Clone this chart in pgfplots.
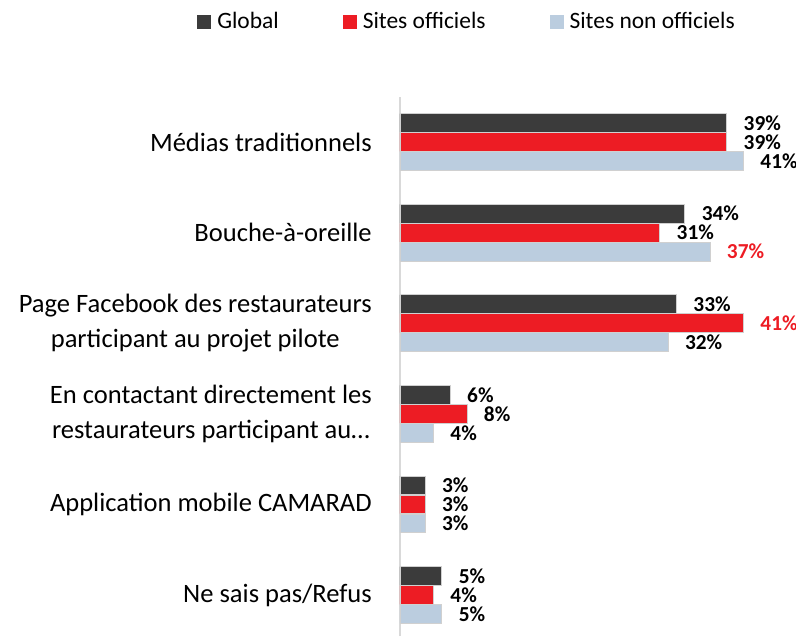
\documentclass[border=0pt]{standalone}
\usepackage{pgfplots}
\usepackage{pgfplotstable}
\pgfplotsset{compat=1.18}
\usepackage{fontspec}
\setmainfont{Carlito}

\definecolor{cglobal}{HTML}{3B3B3B}
\definecolor{cofficiel}{HTML}{ED1C24}
\definecolor{cnonoff}{HTML}{BBCDDF}
\definecolor{cedge}{HTML}{D0D0D0}
\definecolor{caxis}{HTML}{D9D9D9}

% pos: place of the category (top = 5); *sig = 1 when the label is red
\pgfplotstableread{
pos global gsig official osig nonoff nsig
5   39     0    39       0    41     0
4   34     0    31       0    37     1
3   33     0    41       1    32     0
2   6      0    8        0    4      0
1   3      0    3        0    3      0
0   5      0    4        0    5      0
}\data

\begin{document}
\begin{tikzpicture}
\begin{axis}[
    name=ax,
    scale only axis,
    width=297pt, height=404.25pt,
    xbar, bar width=14pt,
    xmin=0, xmax=47.26,
    ymin=-0.4525, ymax=5.497,
    hide x axis,
    axis y line*=left,
    y axis line style={draw=caxis, line width=1.5pt},
    ytick={0,...,5},
    yticklabels={
        {Ne sais pas/Refus},
        {Application mobile CAMARAD},
        {En contactant directement les\\restaurateurs participant au…},
        {Page Facebook des restaurateurs\\participant au projet pilote},
        {Bouche-à-oreille},
        {Médias traditionnels}},
    major tick length=0pt,
    yticklabel style={font=\fontsize{19.9}{26}\selectfont, align=center,
        inner sep=0pt, xshift=-21pt},
    nodes near coords={\ifdim\sig pt>0.5pt \color{cofficiel}\fi\pgfmathprintnumber{\pgfplotspointmeta}\%},
    every node near coord/.append style={font=\fontsize{16}{16}\selectfont\bfseries,
        anchor=west, inner sep=0pt, xshift=12.4pt, text=black},
    /pgf/number format/assume math mode=true,
    legend columns=-1,
    legend style={at={(-0.5126,1.1405)}, anchor=west, draw=none, fill=none,
        inner sep=0pt, font=\fontsize{17.6}{20}\selectfont,
        nodes={inner sep=0pt},
        /tikz/every odd column/.append style={column sep=4.5pt},
        /tikz/every even column/.append style={column sep=48pt}},
    legend image code/.code={\path[#1, draw=none] (0pt,-6pt) rectangle (10.5pt,4.5pt);},
]
\addplot[fill=cglobal, draw=cedge, line width=0.6pt, bar shift=14.25pt, point meta=x,
    visualization depends on={\thisrow{gsig} \as \sig}]
    table[x=global, y=pos] {\data};
\addplot[fill=cofficiel, draw=cedge, line width=0.6pt, bar shift=0pt, point meta=x,
    visualization depends on={\thisrow{osig} \as \sig}]
    table[x=official, y=pos] {\data};
\addplot[fill=cnonoff, draw=cedge, line width=0.6pt, bar shift=-14.25pt, point meta=x,
    visualization depends on={\thisrow{nsig} \as \sig}]
    table[x=nonoff, y=pos] {\data};
\legend{Global, Sites officiels, Sites non officiels}
\end{axis}
\pgfresetboundingbox
\path ([xshift=-300pt]ax.south west) rectangle ([yshift=72.75pt]ax.north east);
\end{tikzpicture}
\end{document}
